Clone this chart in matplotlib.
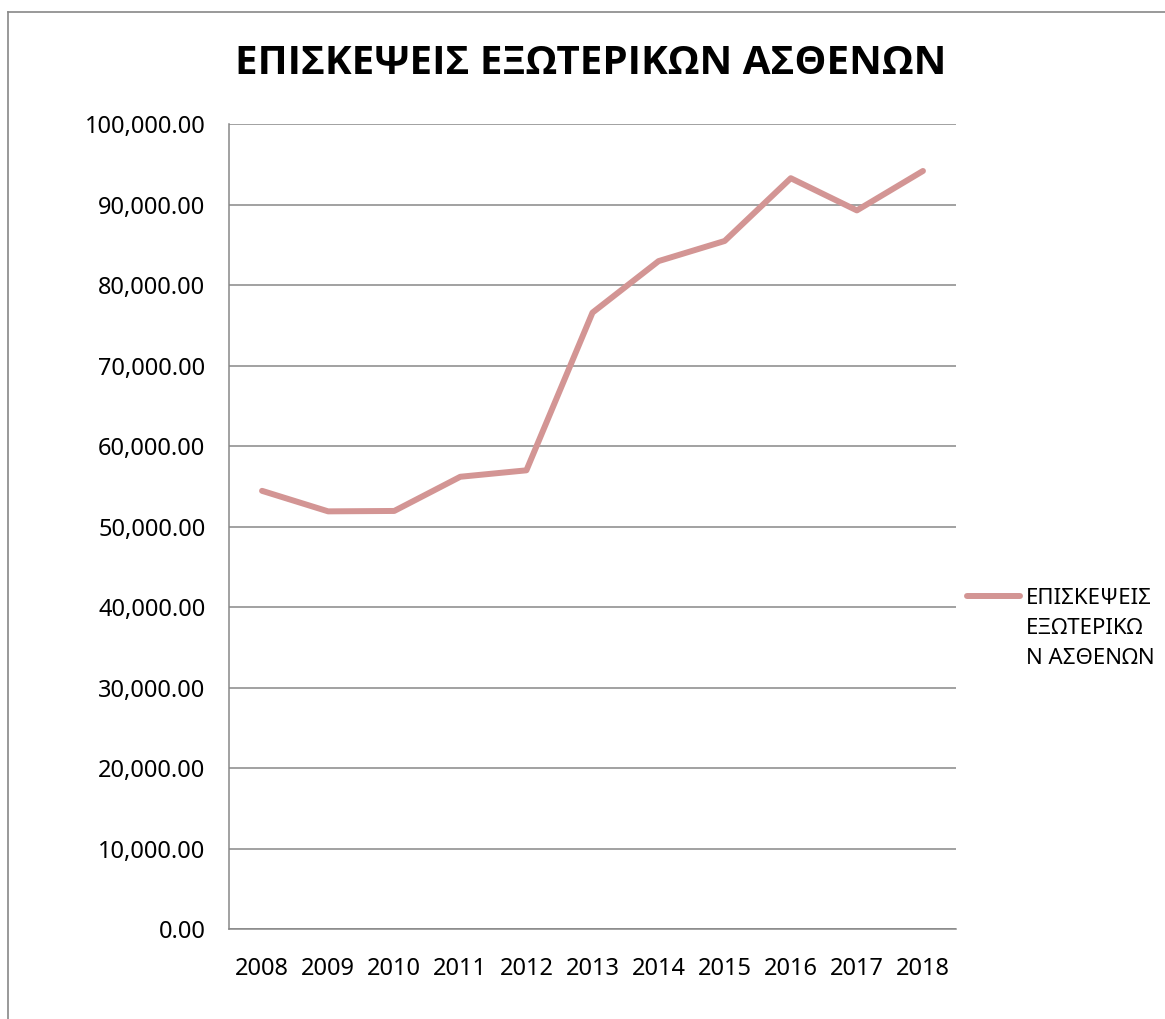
import matplotlib
matplotlib.use("Agg")
import matplotlib.pyplot as plt
from matplotlib.ticker import FuncFormatter, MultipleLocator
from matplotlib.lines import Line2D

years = ["2008", "2009", "2010", "2011", "2012", "2013", "2014", "2015", "2016", "2017", "2018"]
visits = [54450, 51900, 51950, 56200, 57000, 76600, 83000, 85500, 93300, 89300, 94200]
series_name = "ΕΠΙΣΚΕΨΕΙΣ ΕΞΩΤΕΡΙΚΩΝ ΑΣΘΕΝΩΝ"
legend_label = "ΕΠΙΣΚΕΨΕΙΣ\nΕΞΩΤΕΡΙΚΩ\nΝ ΑΣΘΕΝΩΝ"

plt.rcParams['font.family'] = ['Noto Sans', 'DejaVu Sans']

W, H = 1165, 1019
fig = plt.figure(figsize=(W / 100, H / 100), dpi=100)
fig.patch.set_facecolor("white")

# chart-area border (top and left visible)
fig.add_artist(Line2D([8 / W, 1.0], [1 - 12 / H, 1 - 12 / H], transform=fig.transFigure,
                      color="#888888", lw=1.2))
fig.add_artist(Line2D([8 / W, 8 / W], [0, 1 - 12 / H], transform=fig.transFigure,
                      color="#888888", lw=1.2))

ax = fig.add_axes([229 / W, 90 / H, (956 - 229) / W, (929 - 124.3) / H])
line_color = "#D39594"
x = list(range(len(years)))
ax.plot(x, visits, color=line_color, lw=4.3, solid_capstyle="round", solid_joinstyle="round",
        label=legend_label, zorder=3)

ax.set_xlim(-0.5, len(years) - 0.5)
ax.set_ylim(0, 100000)
ax.yaxis.set_major_locator(MultipleLocator(10000))
ax.yaxis.set_major_formatter(FuncFormatter(lambda v, p: f"{v:,.2f}"))
ax.set_xticks(x)
ax.set_xticklabels(years)
ax.grid(axis="y", color="#878787", lw=1.1)
ax.set_axisbelow(True)
for s in ["top", "right"]:
    ax.spines[s].set_visible(False)
for s in ["left", "bottom"]:
    ax.spines[s].set_color("#878787")
    ax.spines[s].set_linewidth(1.1)
ax.tick_params(axis="both", length=0, labelsize=17, colors="black")
ax.tick_params(axis="y", pad=17)
ax.tick_params(axis="x", pad=20)

fig.text(591 / W, 1 - 64 / H, series_name, ha="center", va="center",
         fontsize=29, fontweight="bold", family=["Open Sans", "DejaVu Sans"])

leg = fig.legend(loc="upper left", bbox_to_anchor=(958 / W, 1 - 579 / H), frameon=False,
                 fontsize=16, handlelength=2.4, handletextpad=0.25, borderaxespad=0)
for t in leg.get_texts():
    t.set_linespacing(1.58)
h = leg.legend_handles[0]
h.set_ydata([y + 24 for y in h.get_ydata()])

fig.savefig("out.png", dpi=100)
